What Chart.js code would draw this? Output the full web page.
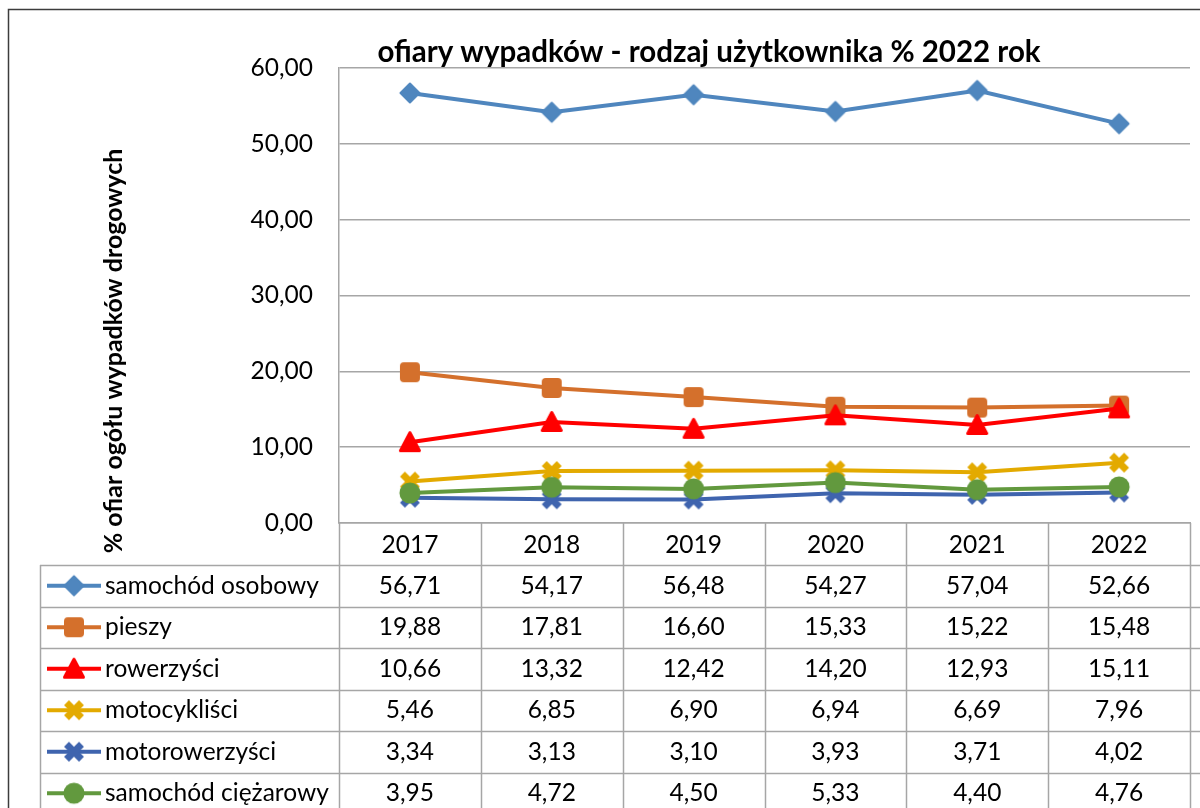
<!DOCTYPE html>
<html>
<head>
<meta charset="utf-8">
<script src="https://cdn.jsdelivr.net/npm/chart.js@4"></script>
<style>
  html, body { margin: 0; padding: 0; background: #fff; overflow: hidden; }
  #wrap { position: absolute; left: 0; top: 0; width: 1204px; height: 808px; }
</style>
</head>
<body>
<div id="wrap"><canvas id="chart"></canvas></div>
<script>
const years = ["2017", "2018", "2019", "2020", "2021", "2022"];
const seriesNames = ["samochód osobowy", "pieszy", "rowerzyści", "motocykliści", "motorowerzyści", "samochód ciężarowy"];
const samochodOsobowy = [56.71, 54.17, 56.48, 54.27, 57.04, 52.66];
const pieszy = [19.88, 17.81, 16.60, 15.33, 15.22, 15.48];
const rowerzysci = [10.66, 13.32, 12.42, 14.20, 12.93, 15.11];
const motocyklisci = [5.46, 6.85, 6.90, 6.94, 6.69, 7.96];
const motorowerzysci = [3.34, 3.13, 3.10, 3.93, 3.71, 4.02];
const samochodCiezarowy = [3.95, 4.72, 4.50, 5.33, 4.40, 4.76];
const yTicks = [0, 10, 20, 30, 40, 50, 60];

const titleText = "ofiary wypadków - rodzaj użytkownika % 2022 rok";
const yTitleText = "% ofiar ogółu wypadków drogowych";
const FONT = "Lato, 'Open Sans', sans-serif";
const TXT = 24.5;

const colors = ["#4F86BE", "#D4702C", "#FF0000", "#E3AA00", "#3F64AE", "#62993E"];
const shapes = ["diamond", "square", "triangle", "x", "x", "circle"];

function makeMarker(shape, color) {
  const c = document.createElement("canvas");
  c.width = 24; c.height = 24;
  const g = c.getContext("2d");
  g.fillStyle = color;
  g.strokeStyle = color;
  g.lineJoin = "round";
  g.lineWidth = 2;
  g.beginPath();
  if (shape === "diamond") {
    g.moveTo(12, 2.5); g.lineTo(21.5, 12); g.lineTo(12, 21.5); g.lineTo(2.5, 12); g.closePath();
    g.fill(); g.stroke();
  } else if (shape === "square") {
    g.roundRect(2, 2, 20, 20, 4);
    g.fill();
  } else if (shape === "triangle") {
    g.moveTo(12, 2.5); g.lineTo(21.5, 20.5); g.lineTo(2.5, 20.5); g.closePath();
    g.lineWidth = 3;
    g.fill(); g.stroke();
  } else if (shape === "x") {
    g.lineWidth = 7;
    g.lineCap = "butt";
    g.moveTo(4.5, 4.5); g.lineTo(19.5, 19.5);
    g.moveTo(19.5, 4.5); g.lineTo(4.5, 19.5);
    g.stroke();
  } else {
    g.arc(12, 12, 10.5, 0, Math.PI * 2);
    g.fill();
  }
  return c;
}

const allValues = [samochodOsobowy, pieszy, rowerzysci, motocyklisci, motorowerzysci, samochodCiezarowy];
const markers = shapes.map((s, i) => makeMarker(s, colors[i]));
const fmt = (v) => v.toFixed(2).replace(".", ",");

const datasets = allValues.map((vals, i) => ({
  label: seriesNames[i],
  data: vals,
  borderColor: colors[i],
  backgroundColor: colors[i],
  borderWidth: 4,
  tension: 0,
  pointStyle: markers[i],
  pointRadius: 10,
  order: allValues.length - i,
}));

// tabela danych pod wykresem + tytuły
const extras = {
  id: "extras",
  afterDraw(chart) {
    const ctx = chart.ctx;
    const xs = chart.scales.x;
    const area = chart.chartArea;
    const W = chart.width;
    const rowTop = 565, rowH = 41.5, legLeft = 40;
    ctx.save();

    // ramka
    ctx.strokeStyle = "#3c3c3c";
    ctx.lineWidth = 1.5;
    ctx.beginPath();
    ctx.moveTo(8.5, 820); ctx.lineTo(8.5, 9.5); ctx.lineTo(W + 5, 9.5);
    ctx.stroke();

    // tytuł
    ctx.fillStyle = "#000";
    ctx.font = "bold 29.5px " + FONT;
    ctx.textAlign = "center";
    ctx.textBaseline = "middle";
    ctx.fillText(titleText, 709, 52);

    // tytuł osi Y
    ctx.save();
    ctx.translate(114, 351);
    ctx.rotate(-Math.PI / 2);
    ctx.font = "bold 25px " + FONT;
    ctx.fillText(yTitleText, 0, 0);
    ctx.restore();

    // siatka tabeli
    ctx.strokeStyle = "#a6a6a6";
    ctx.lineWidth = 1.5;
    ctx.beginPath();
    const step = (area.right - area.left) / years.length;
    for (let k = 0; k <= years.length; k++) {
      const x = Math.round(area.left + step * k) + 0.5;
      ctx.moveTo(x, area.bottom); ctx.lineTo(x, 820);
    }
    ctx.moveTo(legLeft + 0.5, rowTop); ctx.lineTo(legLeft + 0.5, 820);
    for (let r = 0; r < seriesNames.length; r++) {
      const y = Math.round(rowTop + rowH * r) + 0.5;
      ctx.moveTo(legLeft, y); ctx.lineTo(W, y);
    }
    ctx.stroke();

    // nagłówek lat
    ctx.font = TXT + "px " + FONT;
    ctx.fillStyle = "#000";
    years.forEach((yr, i) => ctx.fillText(yr, xs.getPixelForValue(i), 545));

    // wiersze
    seriesNames.forEach((name, r) => {
      const cy = rowTop + rowH * r + rowH / 2;
      ctx.strokeStyle = colors[r];
      ctx.lineWidth = 4;
      ctx.beginPath();
      ctx.moveTo(47, cy); ctx.lineTo(101, cy);
      ctx.stroke();
      ctx.drawImage(markers[r], 74 - 12, cy - 12);
      ctx.fillStyle = "#000";
      ctx.textAlign = "left";
      ctx.fillText(name, 105, cy);
      ctx.textAlign = "center";
      allValues[r].forEach((v, i) => ctx.fillText(fmt(v), xs.getPixelForValue(i), cy));
    });
    ctx.restore();
  },
};

new Chart(document.getElementById("chart"), {
  type: "line",
  data: { labels: years, datasets: datasets },
  plugins: [extras],
  options: {
    responsive: true,
    maintainAspectRatio: false,
    animation: false,
    events: [],
    layout: { padding: { top: 68, bottom: 285, left: 0, right: 0 } },
    plugins: { legend: { display: false }, tooltip: { enabled: false } },
    scales: {
      x: {
        offset: true,
        grid: { display: false, drawTicks: false },
        border: { display: true, color: "#a6a6a6", width: 1.5 },
        ticks: { display: false },
        afterFit(scale) { scale.height = 0; },
      },
      y: {
        min: 0,
        max: 60,
        afterBuildTicks(scale) { scale.ticks = yTicks.map((v) => ({ value: v })); },
        grid: { color: "#a6a6a6", lineWidth: 1.5, drawTicks: false },
        border: { display: true, color: "#a6a6a6", width: 1.5 },
        ticks: {
          padding: 26,
          color: "#000",
          font: { family: FONT, size: TXT },
          callback: (v) => fmt(v),
        },
        afterFit(scale) { scale.width = 339; },
      },
    },
  },
});
</script>
</body>
</html>
